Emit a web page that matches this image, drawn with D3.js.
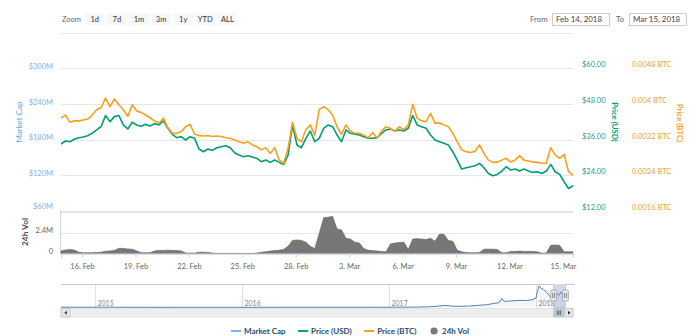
<!DOCTYPE html>
<html><head><meta charset="utf-8">
<script src="https://cdn.jsdelivr.net/npm/d3@7"></script>
<style>
html,body{margin:0;padding:0;background:#fff;}
svg{display:block;font-family:Lato,"Open Sans",sans-serif;}
</style></head><body>
<svg id="chart" width="700" height="336"></svg>
<script>
// ---------------- DATA ----------------
const startTime = Date.UTC(2018, 1, 14, 19, 40);
const stepHours = 6;
const priceUSD = [34.52,35.53,35.30,36.09,36.65,36.88,37.33,38.11,39.24,40.36,44.07,42.04,43.73,44.07,40.92,39.57,41.82,40.92,40.47,41.15,
40.58,41.37,40.92,42.27,39.80,37.78,36.65,36.99,35.87,36.99,36.43,32.83,31.93,32.83,32.38,33.28,33.62,33.96,33.28,31.60,
30.81,30.25,30.58,30.13,29.69,28.56,29.12,28.34,29.12,28.34,27.66,30.81,40.92,34.18,33.28,36.43,38.90,35.30,36.43,39.80,
40.92,40.36,37.55,35.30,39.24,38.11,37.78,37.55,36.99,36.43,36.43,36.65,38.11,39.24,39.57,38.90,39.24,38.90,39.80,44.07,
40.92,40.36,39.80,37.55,35.87,35.30,34.74,34.18,31.93,29.12,26.09,26.54,26.88,27.21,28.00,26.54,24.63,23.84,24.29,25.42,
26.88,25.75,26.09,25.42,26.09,25.42,24.97,25.19,24.63,25.42,27.66,25.19,24.29,21.82,19.57,20.47];
const priceBTC = [0.00368,0.00375,0.00359,0.00362,0.00362,0.00364,0.00366,0.00375,0.00387,0.00392,0.00413,0.00394,0.00411,0.00398,0.00387,0.00372,0.00398,0.00384,0.00381,0.00375,
0.00369,0.00362,0.00357,0.00368,0.00347,0.00334,0.00334,0.00338,0.00349,0.00354,0.00332,0.00329,0.00328,0.00329,0.00327,0.00328,0.00327,0.00324,0.00323,0.00319,
0.00315,0.00312,0.00315,0.00308,0.00304,0.00297,0.00302,0.00289,0.00302,0.00274,0.00267,0.00300,0.00359,0.00323,0.00315,0.00342,0.00353,0.00330,0.00387,0.00394,
0.00387,0.00375,0.00349,0.00332,0.00353,0.00339,0.00334,0.00334,0.00330,0.00324,0.00336,0.00323,0.00339,0.00349,0.00345,0.00339,0.00349,0.00342,0.00353,0.00399,
0.00368,0.00362,0.00360,0.00379,0.00357,0.00357,0.00353,0.00349,0.00334,0.00315,0.00297,0.00293,0.00291,0.00294,0.00308,0.00289,0.00274,0.00269,0.00270,0.00274,
0.00278,0.00270,0.00274,0.00284,0.00274,0.00272,0.00270,0.00269,0.00267,0.00267,0.00302,0.00285,0.00278,0.00287,0.00248,0.00240];
// 24h volume, millions USD
const volume24h = [0.3,0.4,0.45,0.4,0.15,0.1,0.08,0.1,0.12,0.15,0.25,0.3,0.35,0.6,0.58,0.52,0.48,0.3,0.1,0.08,
0.1,0.3,0.35,0.35,0.38,0.35,0.33,0.3,0.05,0.05,0.05,0.15,0.15,0.12,0.05,0.02,0.01,0.01,0.01,0.01,
0.01,0.01,0.01,0.01,0.05,0.15,0.2,0.28,0.33,0.38,0.46,0.83,1.5,1.55,1.5,1.3,0.83,0.56,2.3,4.1,
4.15,4.25,2.8,2.7,1.75,1.65,1.3,1.2,0.56,0.37,0.33,0.28,0.23,0.19,1.1,1.2,1.25,1.3,0.46,1.65,
1.7,1.65,1.6,1.75,1.4,2.2,2.2,1.5,1.4,0.37,0.19,0.11,0.09,0.09,0.11,0.5,0.5,0.5,0.46,0.09,
0.09,0.23,0.23,0.28,0.23,0.23,0.23,0.19,0.05,0.05,0.93,0.97,0.93,0.19,0.19,0.19];

const marketCapGrid = [60,120,180,240,300,360];      // $M
const marketCapLabels = [60,120,180,240,300];
const usdTicks = [12,24,36,48,60];
const btcTicks = [0.0016,0.0024,0.0032,0.004,0.0048];
const volGrid = [0,2.4,4.8];
const volLabels = [0,2.4];
const dateTicks = ["2018-02-16","2018-02-19","2018-02-22","2018-02-25","2018-02-28","2018-03-03","2018-03-06","2018-03-09","2018-03-12","2018-03-15"];
const zoomButtons = ["1d","7d","1m","3m","1y","YTD","ALL"];
const rangeFrom = "Feb 14, 2018", rangeTo = "Mar 15, 2018";
const rangeFromDate = "2018-02-14", rangeToDate = "2018-03-15";
const navDomain = ["2014-10-08","2018-04-03"];
const navDates = ["2014-10-08","2015-03-01","2015-08-01","2016-01-01","2016-06-01","2016-12-01","2017-03-01","2017-04-15","2017-05-20","2017-06-10",
"2017-07-15","2017-08-10","2017-09-01","2017-09-20","2017-10-01","2017-10-08","2017-10-14","2017-11-01","2017-11-20","2017-12-10",
"2017-12-25","2018-01-01","2018-01-05","2018-01-09","2018-01-13","2018-01-20","2018-01-28","2018-02-06","2018-02-10","2018-02-16",
"2018-02-22","2018-02-27","2018-03-04","2018-03-10","2018-03-15"];
const navValues = [0.6,0.5,0.4,0.4,0.6,0.5,0.8,1.5,4.5,2.5,
2.8,4.5,6,9,10,19,13,14,15,15,
17,20,36,46,41,38,32,22,27,34,
30,26,33,26,21];
const navYears = [2015,2016,2017,2018];
const legendNames = ["Market Cap","Price (USD)","Price (BTC)","24h Vol"];
const legendColors = ["#7cb5ec","#009e73","#f7a11a","#777777"];

// ---------------- LAYOUT ----------------
const svg = d3.select("#chart");
const plotL = 61, plotR = 573;
const mainTop = 32.5, mainBot = 211, volTop = 211.5, volBot = 253.5;
const cUSD = "#009e73", cBTC = "#f7a11a", cMC = "#7cb5ec", grid = "#e6e6e6";

const parse = d3.utcParse("%Y-%m-%d");
const times = priceUSD.map((_, i) => new Date(startTime + i * stepHours * 3600e3));
const x = d3.scaleUtc().domain([times[0], times[times.length - 1]]).range([plotL, plotR]);
const yMC = d3.scaleLinear().domain([60, 360]).range([mainBot, mainTop]);
const yUSD = d3.scaleLinear().domain([12, 72]).range([mainBot, mainTop]);
const yBTC = d3.scaleLinear().domain([0.0016, 0.0056]).range([mainBot, mainTop]);
const yVol = d3.scaleLinear().domain([0, 4.8]).range([volBot, volTop]);

// ---- top range selector ----
const topG = svg.append("g").attr("font-size", 7.5);
topG.append("text").attr("x", 62).attr("y", 21.5).attr("fill", "#666").text("Zoom");
const bw = 19.5, bstep = 22.1;
zoomButtons.forEach((b, i) => {
  const bx = 85 + i * bstep;
  topG.append("rect").attr("x", bx).attr("y", 13).attr("width", bw).attr("height", 12.5).attr("fill", "#f7f7f7");
  topG.append("text").attr("x", bx + bw / 2).attr("y", 21.8).attr("text-anchor", "middle").attr("fill", "#333").text(b);
});
topG.append("text").attr("x", 530).attr("y", 21.5).attr("fill", "#666").attr("font-size", 7.8).text("From");
topG.append("rect").attr("x", 552.5).attr("y", 13.5).attr("width", 57).attr("height", 12).attr("fill", "#fff").attr("stroke", "#ccc");
topG.append("text").attr("x", 556).attr("y", 22).attr("fill", "#444").attr("font-size", 7.9).text(rangeFrom);
topG.append("text").attr("x", 616).attr("y", 21.5).attr("fill", "#666").attr("font-size", 7.8).text("To");
topG.append("rect").attr("x", 629.5).attr("y", 13.5).attr("width", 57).attr("height", 12).attr("fill", "#fff").attr("stroke", "#ccc");
topG.append("text").attr("x", 633).attr("y", 22).attr("fill", "#444").attr("font-size", 7.9).text(rangeTo);

// ---- gridlines ----
const gMain = svg.append("g").attr("transform", `translate(${plotL},0)`)
  .call(d3.axisLeft(yMC).tickValues(marketCapGrid).tickSize(-(plotR - plotL)).tickFormat(""));
gMain.select(".domain").remove();
gMain.selectAll("line").attr("stroke", grid).attr("shape-rendering", "crispEdges");

const gVolGrid = svg.append("g").attr("transform", `translate(${plotL},0)`)
  .call(d3.axisLeft(yVol).tickValues(volGrid).tickSize(-(plotR - plotL)).tickFormat(""));
gVolGrid.select(".domain").remove();
gVolGrid.selectAll("line").attr("stroke", grid).attr("shape-rendering", "crispEdges");

// ---- axis labels ----
function styleAxis(g, color) {
  g.select(".domain").remove();
  g.selectAll(".tick line").remove();
  g.selectAll("text").attr("fill", color).attr("font-size", 7.5).attr("font-family", "Lato,'Open Sans',sans-serif").attr("dy", "0.05em");
}
const aMC = svg.append("g").attr("transform", `translate(53,0)`)
  .call(d3.axisLeft(yMC).tickValues(marketCapLabels).tickSize(0).tickPadding(0).tickFormat(d => `$${d}M`));
styleAxis(aMC, "#7cb5ec");
aMC.selectAll(".tick").filter(d => d === 60).select("text").attr("dy", "-0.35em");
const aVol = svg.append("g").attr("transform", `translate(53,0)`)
  .call(d3.axisLeft(yVol).tickValues(volLabels).tickSize(0).tickPadding(0).tickFormat(d => d === 0 ? "0" : d + "M"));
styleAxis(aVol, "#666");

const aUSD = svg.append("g").attr("transform", `translate(582,0)`)
  .call(d3.axisRight(yUSD).tickValues(usdTicks).tickSize(0).tickPadding(0).tickFormat(d => "$" + d.toFixed(2)));
styleAxis(aUSD, "#2e9a78");
aUSD.selectAll("text").attr("dy", "-0.2em");
const aBTC = svg.append("g").attr("transform", `translate(632,0)`)
  .call(d3.axisRight(yBTC).tickValues(btcTicks).tickSize(0).tickPadding(0).tickFormat(d => (+d.toFixed(4)) + " BTC"));
styleAxis(aBTC, "#f0a22a");
aBTC.selectAll("text").attr("dy", "-0.2em");

// axis titles
svg.append("text").attr("transform", "translate(22,122) rotate(-90)").attr("text-anchor", "middle")
  .attr("fill", "#5fa5e0").attr("font-size", 8).text("Market Cap");
svg.append("text").attr("transform", "translate(27.5,232) rotate(-90)").attr("text-anchor", "middle")
  .attr("fill", "#4d4d4d").attr("font-size", 8.3).attr("font-weight", "bold").text("24h Vol");
svg.append("text").attr("transform", "translate(611.5,122) rotate(90)").attr("text-anchor", "middle")
  .attr("fill", cUSD).attr("font-size", 7.8).attr("font-weight", "bold").text("Price (USD)");
svg.append("text").attr("transform", "translate(676.5,123) rotate(90)").attr("text-anchor", "middle")
  .attr("fill", cBTC).attr("font-size", 7.8).attr("font-weight", "bold").text("Price (BTC)");

// ---- volume panel ----
svg.append("line").attr("x1", plotL - 0.5).attr("x2", plotL - 0.5).attr("y1", volTop - 1.5).attr("y2", volBot)
  .attr("stroke", "#ccd6eb");
const volArea = d3.area().x((d, i) => x(times[i])).y0(volBot).y1(d => yVol(d));
svg.append("path").datum(volume24h).attr("d", volArea).attr("fill", "#777777").attr("stroke", "#5e5e5e").attr("stroke-width", 0.6);

// x axis
const xAxis = svg.append("g").attr("transform", `translate(0,${volBot})`)
  .call(d3.axisBottom(x).tickValues(dateTicks.map(parse)).tickSize(4).tickPadding(6).tickFormat(d3.utcFormat("%-d. %b")));
xAxis.select(".domain").attr("stroke", "#ccd6eb");
xAxis.selectAll(".tick line").attr("stroke", "#ccd6eb");
xAxis.selectAll("text").attr("fill", "#666").attr("font-size", 7.5).attr("font-family", "Lato,'Open Sans',sans-serif");

// ---- price lines ----
svg.append("clipPath").attr("id", "clipMain").append("rect")
  .attr("x", plotL).attr("y", mainTop).attr("width", plotR - plotL + 1).attr("height", mainBot - mainTop);
const lineUSD = d3.line().x((d, i) => x(times[i])).y(d => yUSD(d));
const lineBTC = d3.line().x((d, i) => x(times[i])).y(d => yBTC(d));
svg.append("path").datum(priceUSD).attr("d", lineUSD).attr("fill", "none").attr("stroke", cUSD)
  .attr("stroke-width", 1.6).attr("stroke-linejoin", "round").attr("clip-path", "url(#clipMain)");
svg.append("path").datum(priceBTC).attr("d", lineBTC).attr("fill", "none").attr("stroke", cBTC)
  .attr("stroke-width", 1.6).attr("stroke-linejoin", "round").attr("clip-path", "url(#clipMain)");

// ---- navigator ----
const navTop = 284, navBot = 307.5;
const xNav = d3.scaleUtc().domain(navDomain.map(parse)).range([plotL, plotR]);
const yNav = d3.scaleLinear().domain([0, 50]).range([navBot, navTop]);
const nav = svg.append("g");
navYears.forEach(yr => {
  const xx = Math.round(xNav(new Date(Date.UTC(yr, 0, 1)))) + 0.5;
  nav.append("line").attr("x1", xx).attr("x2", xx).attr("y1", navTop).attr("y2", navBot).attr("stroke", "#e0e0e0");
  nav.append("text").attr("x", xx + 2).attr("y", 305.5).attr("font-size", 7).attr("fill", "#888").text(yr);
});
const navPts = navDates.map((d, i) => [parse(d), navValues[i]]);
nav.append("path").datum(navPts)
  .attr("d", d3.area().x(d => xNav(d[0])).y0(navBot).y1(d => yNav(d[1])))
  .attr("fill", "rgba(69,114,167,0.06)");
nav.append("path").datum(navPts)
  .attr("d", d3.line().x(d => xNav(d[0])).y(d => yNav(d[1])))
  .attr("fill", "none").attr("stroke", "#4572a7").attr("stroke-width", 0.9);
const selL = xNav(parse(rangeFromDate)), selR = xNav(parse(rangeToDate));
nav.append("rect").attr("x", selL).attr("y", navTop).attr("width", selR - selL).attr("height", navBot - navTop)
  .attr("fill", "rgba(102,133,194,0.3)");
nav.append("path").attr("d", `M${plotL},${navTop + 0.5}H${selL}V${navBot}H${selR}V${navTop + 0.5}H${plotR + 2}`)
  .attr("fill", "none").attr("stroke", "#c8c8cc").attr("stroke-width", 1);
[selL, selR].forEach(hx => {
  nav.append("rect").attr("x", hx - 3).attr("y", 290).attr("width", 6).attr("height", 11).attr("rx", 1)
    .attr("fill", "#ebe7e8").attr("stroke", "#a0a0a6").attr("stroke-width", 0.8);
  [-1, 1].forEach(o => nav.append("line").attr("x1", hx + o).attr("x2", hx + o).attr("y1", 293).attr("y2", 298).attr("stroke", "#555").attr("stroke-width", 0.7));
});
// scrollbar
const sbY = 308.5, sbH = 8.5;
nav.append("rect").attr("x", plotL).attr("y", sbY).attr("width", plotR - plotL).attr("height", sbH).attr("fill", "#eeeeee").attr("stroke", "#e4e4e4");
nav.append("rect").attr("x", plotL).attr("y", sbY).attr("width", 9).attr("height", sbH).attr("fill", "#e6e6e6").attr("stroke", "#bbb").attr("stroke-width", 0.6);
nav.append("rect").attr("x", plotR - 8).attr("y", sbY).attr("width", 8).attr("height", sbH).attr("fill", "#e6e6e6").attr("stroke", "#bbb").attr("stroke-width", 0.6);
nav.append("path").attr("d", `M${plotL + 3.3},${sbY + sbH / 2}l2.5,-2v4z`).attr("fill", "#333");
nav.append("path").attr("d", `M${plotR - 2.5},${sbY + sbH / 2}l-2.5,-2v4z`).attr("fill", "#333");
nav.append("rect").attr("x", selL).attr("y", sbY).attr("width", plotR - 9 - selL).attr("height", sbH).attr("fill", "#bfc8d1").attr("stroke", "#bbb").attr("stroke-width", 0.6);
const tc = (selL + plotR - 9) / 2;
[-1.6, 0, 1.6].forEach(o => nav.append("line").attr("x1", tc + o).attr("x2", tc + o).attr("y1", sbY + 2).attr("y2", sbY + sbH - 2).attr("stroke", "#444").attr("stroke-width", 0.7));

// ---- legend ----
const leg = svg.append("g").attr("font-size", 8).attr("font-weight", "bold");
const items = legendNames.map((n, i) => {
  const g = leg.append("g");
  if (i < 3) g.append("line").attr("x1", 0).attr("x2", 10).attr("y1", 0).attr("y2", 0).attr("stroke", legendColors[i]).attr("stroke-width", 2);
  else g.append("circle").attr("cx", 5).attr("cy", 0).attr("r", 3.6).attr("fill", legendColors[i]);
  const t = g.append("text").attr("x", 13).attr("y", 2.9).attr("fill", "#274b6d").text(n);
  return { g, w: 13 + t.node().getComputedTextLength() };
});
const gap = 12.5;
const total = d3.sum(items, d => d.w) + gap * (items.length - 1);
let lx = 350 - total / 2;
items.forEach(it => { it.g.attr("transform", `translate(${lx},331)`); lx += it.w + gap; });
</script>
</body></html>
